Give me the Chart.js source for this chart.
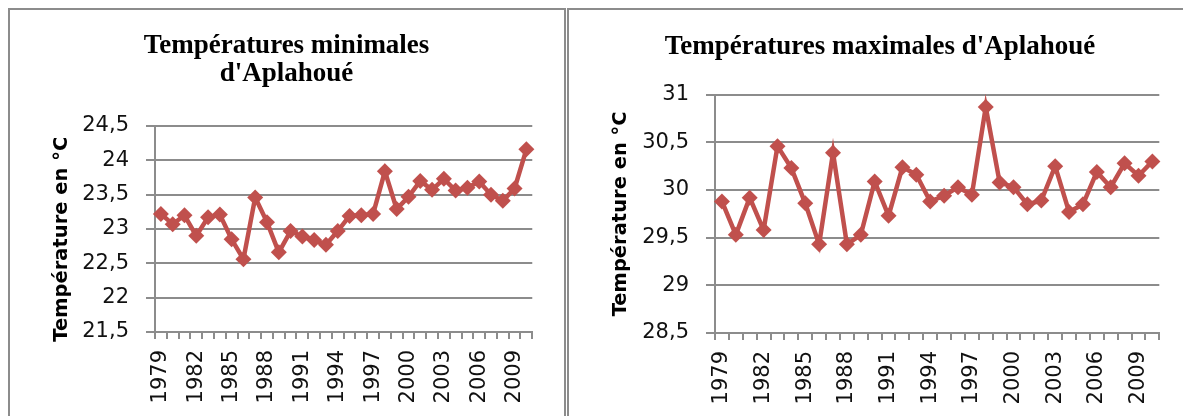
<!DOCTYPE html>
<html><head><meta charset="utf-8">
<script src="https://cdn.jsdelivr.net/npm/chart.js@4.4.1/dist/chart.umd.min.js"></script>
<style>
html,body{margin:0;padding:0;background:#fff;overflow:hidden;width:1183px;height:416px;}
.box{position:absolute;border:2px solid #8c8c8c;box-sizing:border-box;}
canvas{position:absolute;}
</style></head><body>
<div class="box" style="left:8px;top:8px;width:558px;height:430px"></div>
<div class="box" style="left:567px;top:8px;width:640px;height:430px"></div>
<canvas id="c1" width="553" height="406" style="left:10px;top:10px;width:553px;height:406px"></canvas>
<canvas id="c2" width="618" height="406" style="left:571px;top:10px;width:618px;height:406px"></canvas>
<script>
// ---- data ----
const years = ['1979','1980','1981','1982','1983','1984','1985','1986','1987','1988','1989','1990','1991','1992','1993','1994','1995','1996','1997','1998','1999','2000','2001','2002','2003','2004','2005','2006','2007','2008','2009','2010'];
const xTickLabels = ['1979','1982','1985','1988','1991','1994','1997','2000','2003','2006','2009'];
const tMin = [23.22, 23.07, 23.20, 22.90, 23.17, 23.21, 22.85, 22.56, 23.46, 23.10, 22.66, 22.97, 22.89, 22.84, 22.77, 22.97, 23.19, 23.20, 23.22, 23.84, 23.29, 23.47, 23.70, 23.57, 23.73, 23.56, 23.60, 23.69, 23.50, 23.41, 23.59, 24.16];
const tMax = [29.88, 29.53, 29.92, 29.58, 30.46, 30.23, 29.86, 29.43, 30.39, 29.43, 29.53, 30.09, 29.73, 30.24, 30.16, 29.88, 29.94, 30.03, 29.95, 30.87, 30.08, 30.03, 29.85, 29.89, 30.25, 29.77, 29.85, 30.19, 30.03, 30.28, 30.15, 30.30];
const yTicksMin = [21.5, 22, 22.5, 23, 23.5, 24, 24.5];
const yTicksMax = [28.5, 29, 29.5, 30, 30.5, 31];
const titleMin = ['Températures minimales', "d'Aplahoué"];
const titleMax = "Températures maximales d'Aplahoué";
const yTitle = 'Température en °C';

// ---- styling ----
const RED = '#C0504D';
const GRID = '#8c8c8c';

function makeChart(id, values, yTicks, title, cfg) {
  new Chart(document.getElementById(id), {
    type: 'line',
    data: {
      labels: years,
      datasets: [{
        data: values,
        borderColor: RED,
        backgroundColor: RED,
        borderWidth: 4.5,
        tension: 0,
        pointStyle: 'rectRot',
        pointRadius: 8,
        pointBackgroundColor: RED,
        pointBorderColor: RED,
        pointBorderWidth: 0,
        clip: false
      }]
    },
    options: {
      responsive: false,
      animation: false,
      devicePixelRatio: 1,
      layout: { padding: { left: cfg.pad, right: cfg.pad, top: 0, bottom: 0 } },
      plugins: {
        legend: { display: false },
        tooltip: { enabled: false },
        title: {
          display: true,
          text: title,
          color: '#000',
          font: { family: 'Liberation Serif', weight: 'bold', size: 27, lineHeight: 1.048 },
          padding: { top: cfg.tTop, bottom: cfg.tBottom }
        }
      },
      scales: {
        x: {
          offset: true,
          grid: { display: true, drawOnChartArea: false, drawTicks: true, tickLength: 7, offset: true, color: GRID, lineWidth: 2 },
          border: { display: true, color: GRID, width: 2 },
          ticks: {
            autoSkip: false, minRotation: 90, maxRotation: 90, padding: 11,
            color: '#111',
            font: { family: 'DejaVu Sans', size: 21 },
            callback: function(v, i) { const l = this.getLabelForValue(v); return xTickLabels.includes(l) ? l : ''; }
          },
          afterFit: s => { s.height = cfg.xH; }
        },
        y: {
          min: yTicks[0], max: yTicks[yTicks.length - 1],
          grid: { color: GRID, lineWidth: 2, drawTicks: true, tickLength: 9 },
          border: { display: true, color: GRID, width: 2 },
          ticks: {
            stepSize: 0.5, padding: 17, color: '#111',
            font: { family: 'DejaVu Sans', size: 21 },
            callback: v => String(v).replace('.', ',')
          },
          title: {
            display: true, text: yTitle + cfg.titleTail, color: '#000',
            font: { family: 'DejaVu Sans', weight: 'bold', size: 19.5, lineHeight: 1.2 },
            padding: { top: cfg.yTitlePad, bottom: 0 }
          },
          afterFit: s => { s.width = cfg.yW; }
        }
      }
    }
  });
}

makeChart('c1', tMin, yTicksMin, titleMin, { pad: 27, yW: 118, xH: 84, tTop: 21.4, tBottom: 38, yTitlePad: 13, titleTail: '   ' });
makeChart('c2', tMax, yTicksMax, titleMax, { pad: 28, yW: 116, xH: 83, tTop: 22.9, tBottom: 33.5, yTitlePad: 10.5, titleTail: '' });
</script>
</body></html>
